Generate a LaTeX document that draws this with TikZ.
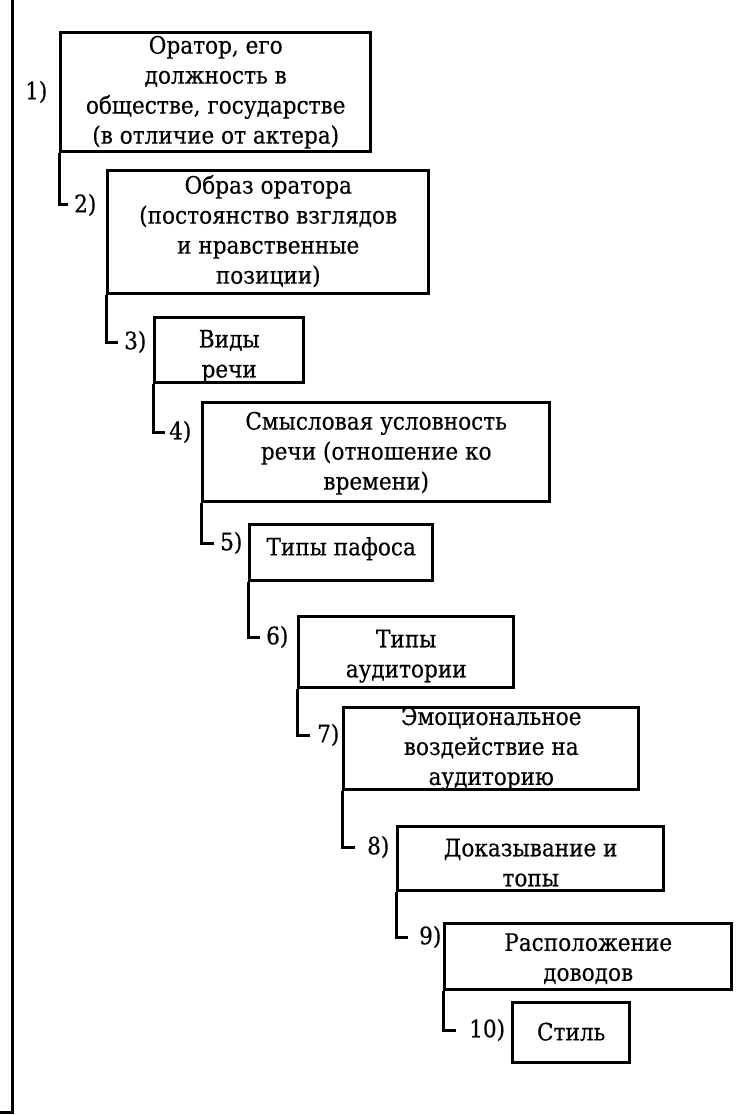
\documentclass[tikz,border=0pt]{standalone}
\usepackage{fontspec}
\setmainfont{DejaVu Serif Condensed}[FakeBold=0.4]
\begin{document}
\begin{tikzpicture}[x=1pt,y=-1pt,
  box/.style={draw, line width=3.4pt, anchor=north west, inner sep=0pt},
  txt/.style={align=center, font=\fontsize{24}{30}\selectfont, inner sep=0pt},
  num/.style={anchor=west, inner sep=0pt, font=\fontsize{24}{30}\selectfont},
  conn/.style={line width=3pt}]
\useasboundingbox (0,0) rectangle (738,1115);
% left rule
\coordinate (lt) at (12,0);
\coordinate (lb) at (12,1112);
\coordinate (lf) at (0,1112);
\draw[conn] (lt) -- (lb) -- (lf);
% boxes
\node[box, minimum width=310pt, minimum height=119pt,
  label={[txt]center:Оратор, его\\должность в\\обществе, государстве\\(в отличие от актера)}] (b1) at (59,31) {};
\node[box, minimum width=321pt, minimum height=123pt,
  label={[txt,yshift=1pt]center:Образ оратора\\(постоянство взглядов\\и нравственные\\позиции)}] (b2) at (106,169) {};
\node[box, minimum width=149pt, minimum height=65pt,
  label={[txt,yshift=-6pt]center:Виды\\речи}] (b3) at (153,316) {};
\node[box, minimum width=347pt, minimum height=99pt,
  label={[txt,yshift=-1pt]center:Смысловая условность\\речи (отношение ко\\времени)}] (b4) at (201,401) {};
\node[box, minimum width=183pt, minimum height=56pt,
  label={[txt,yshift=4pt]center:Типы пафоса}] (b5) at (248,523) {};
\node[box, minimum width=215pt, minimum height=71pt,
  label={[txt,yshift=-4pt]center:Типы\\аудитории}] (b6) at (297,615) {};
\node[box, minimum width=295pt, minimum height=82pt,
  label={[txt]center:Эмоциональное\\воздействие на\\аудиторию}] (b7) at (342,706) {};
\node[box, minimum width=266pt, minimum height=64pt,
  label={[txt,yshift=-4pt]center:Доказывание и\\топы}] (b8) at (396,825) {};
\node[box, minimum width=287pt, minimum height=66pt,
  label={[txt,yshift=-2pt]center:Расположение\\доводов}] (b9) at (443,922) {};
\node[box, minimum width=117pt, minimum height=60pt,
  label={[txt,yshift=1pt]center:Стиль}] (b10) at (511,1001) {};
% numbers
\node[num] (n1) at (25,92) {1)};
\node[num, inner xsep=6pt] (n2) at (68,205) {2)};
\node[num, inner xsep=6pt] (n3) at (118,342) {3)};
\node[num, inner xsep=4pt] (n4) at (165,432) {4)};
\node[num, inner xsep=6pt] (n5) at (214,543) {5)};
\node[num, inner xsep=6pt] (n6) at (260,637) {6)};
\node[num, inner xsep=7pt] (n7) at (310,735) {7)};
\node[num, inner xsep=12pt] (n8) at (355,847) {8)};
\node[num, inner xsep=11pt] (n9) at (408,937) {9)};
\node[num, inner xsep=13pt] (n10) at (456,1030) {10)};
% connectors
\draw[conn] (b1.south west) |- (n2.west);
\draw[conn] (b2.south west) |- (n3.west);
\draw[conn] (b3.south west) |- (n4.west);
\draw[conn] (b4.south west) |- (n5.west);
\draw[conn] (b5.south west) |- (n6.west);
\draw[conn] (b6.south west) |- (n7.west);
\draw[conn] (b7.south west) |- (n8.west);
\draw[conn] (b8.south west) |- (n9.west);
\draw[conn] (b9.south west) |- (n10.west);
\end{tikzpicture}
\end{document}
